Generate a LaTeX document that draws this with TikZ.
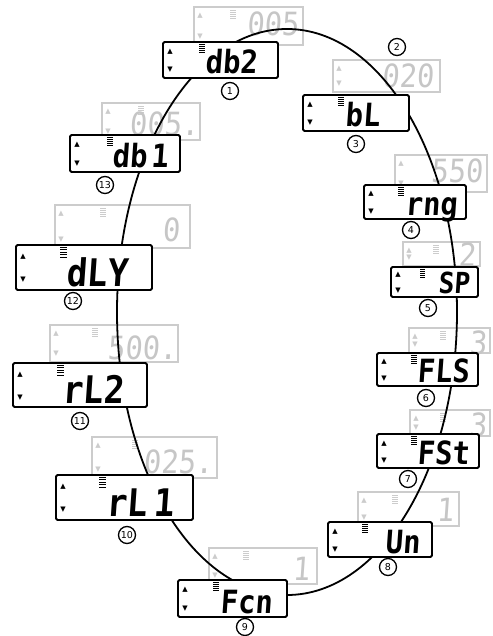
\documentclass[tikz,border=0pt]{standalone}
\usepackage{fontspec}
\newfontfamily\segfont[FakeSlant=0.07,FakeStretch=0.9]{DejaVu Sans Mono}
\newfontfamily\symfont{DejaVu Sans}

\tikzset{
  lcdframe/.style={draw=black, line width=1.9pt, fill=white, rounded corners=1.5pt},
  ghostframe/.style={draw=gray!40, line width=1.3pt, fill=white},
  lcdtext/.style={inner sep=0pt, anchor=base west,
    font=\segfont\bfseries\fontsize{#1}{#1}\selectfont},
  ghosttext/.style={inner sep=0pt, anchor=base east, text=gray!45,
    font=\segfont\fontsize{32}{32}\selectfont},
  updown/.style={inner sep=0pt, font=\symfont\fontsize{7}{7}\selectfont},
  stepnum/.style={circle, draw, line width=1.3pt, minimum size=17pt,
    inner sep=0pt, font=\symfont\fontsize{9.5}{9.5}\selectfont},
  pics/lcdbars/.style={code={
    \foreach \k in {0,...,4} \draw[line width=0.9pt] (0,\k*2.2) -- ++(6,0);
  }}
}

\begin{document}
\begin{tikzpicture}[x=1pt, y=-1pt]
  \useasboundingbox (0,0) rectangle (492,636);

  % Pantallas en gris (valor de cada parametro)
  \foreach \g/\xa/\ya/\xb/\yb/\bx/\tx/\ty/\txt in {
      a/194/7/303/45/230/299/36/005,
      b/333/60/440/92/0/434/88/020,
      c/395/155/487/192/0/483/183/550,
      d/403/242/480/266/433/476/266/2,
      e/409/328/490/353/440/487/354/3,
      f/410/410/490/436/440/487/436/3,
      g/358/492/459/526/392/454/521/1,
      h/209/548/317/584/243/310/580/1,
      i/92/437/217/478/132/213/473/025.,
      j/50/325/178/362/92/177/359/500.,
      k/55/205/190/248/100/180/241/0,
      l/102/103/200/140/138/199/136/005.}{
    \draw[ghostframe] (\xa,\ya) rectangle (\xb,\yb);
    \node[updown, text=gray!40] (gup\g) at (\xa+6,\ya+9) {▲};
    \node[updown, text=gray!40] (gdn\g) at (\xa+6,\yb-8) {▼};
    \ifnum\bx>0 \pic[gray!40] at (\bx,\ya+3) {lcdbars};\fi
    \node[ghosttext] (val\g) at (\tx,\ty) {\txt};
  }

  % Recorrido del menu
  \draw[line width=1.8pt] (287,312) ellipse [x radius=170, y radius=283];

  % Pantallas de parametros
  \foreach \n/\xa/\ya/\xb/\yb/\bx/\tx/\fs/\txt/\cx/\cy in {
      1/163/42/278/78/199/205/32/db2/230/91,
      3/303/95/409/131/338/345/32/bL/356/144,
      4/364/185/466/219/398/405/32/rng/411/230,
      5/391/267/478/297/420/438/29/SP/428/308,
      6/377/353/478/386/411/417/32/FLS/426/398,
      7/377/434/479/468/411/417/32/FSt/408/479,
      8/328/522/432/557/362/385/32/Un/388/567,
      9/178/580/287/617/213/220/32/Fcn/245/627,
      10/56/475/193/520/99/106/38/{rL\kern6pt 1}/127/535,
      11/13/363/147/407/57/62/38/rL2/80/421,
      12/16/245/152/290/60/66/38/dLY/73/301,
      13/70/135/180/172/107/112/32/{db\kern4pt 1}/105/185}{
    \draw[lcdframe] (\xa,\ya) rectangle (\xb,\yb);
    \node[updown] (up\n) at (\xa+7,{\ya+0.27*(\yb-\ya)}) {▲};
    \node[updown] (dn\n) at (\xa+7,{\yb-0.22*(\yb-\ya)}) {▼};
    \pic[scale=\fs/32] at (\bx,\ya+2) {lcdbars};
    \node[lcdtext=\fs] (par\n) at (\tx,\yb-4) {\txt};
    \node[stepnum] (num\n) at (\cx,\cy) {\n};
  }
  \node[stepnum] (num2) at (397,47) {2};
\end{tikzpicture}
\end{document}
